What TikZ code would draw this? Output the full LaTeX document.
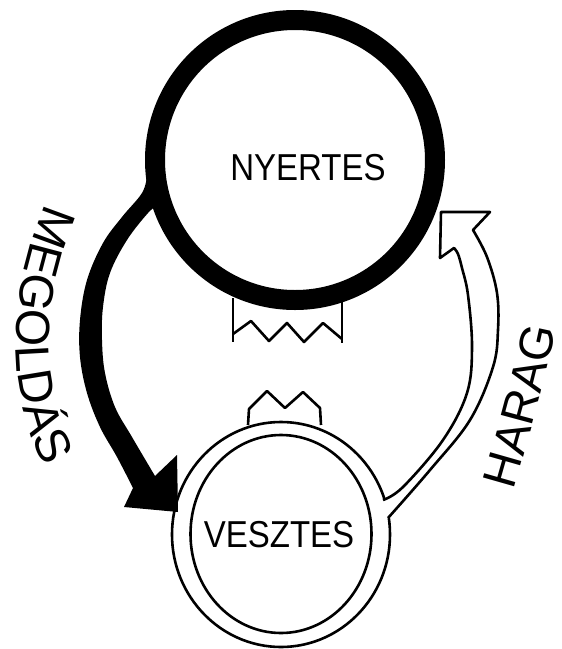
\documentclass[tikz,border=0pt]{standalone}
\usepackage{fontspec}
\usetikzlibrary{shapes.geometric,decorations.text}
\newfontfamily\lblfont[FakeStretch=0.88]{Liberation Sans}
\newfontfamily\arrfont{Liberation Sans}
\newcommand\circlbl{\lblfont\fontsize{37.5}{40}\selectfont}
\newcommand\arrlbl{\arrfont\fontsize{48}{50}\selectfont}
\newcommand\arrlblb{\arrfont\fontsize{47}{50}\selectfont}
\begin{document}
\begin{tikzpicture}[x=1pt,y=-1pt,
  ring/.style={circle, draw=black, line width=20pt, inner sep=0pt, minimum size=280pt},
  band/.style={ellipse, draw=black, line width=2.6pt, inner sep=0pt},
  pen/.style={draw=black, line width=2.6pt, line join=round},
  lbl/.style={font=\circlbl, inner sep=0pt, anchor=base}]
\fill[white] (0,0) rectangle (562,649);
\path[use as bounding box] (0,0) rectangle (562,649);

% zigzag hanging below the winner circle
\draw[pen] (233,298) -- (233,342);
\draw[pen] (342,300) -- (342,343);
\draw[pen] (233,334) -- (251,321) -- (269,341) -- (287,323) -- (304,342) -- (323,323) -- (342,339);

% crown on the loser circle
\draw[pen] (248,425) -- (249,409) -- (267,391) -- (285,408) -- (303,392) -- (320,408) -- (321,425);

% outer ring of the loser
\node[band, minimum width=218pt, minimum height=225pt] (vout) at (281,534.5) {};

% black arrow MEGOLDAS
\fill[black] plot[smooth, tension=0.6] coordinates {(147,176) (142,193) (122,217) (103,243) (87,280) (80,320) (80,357) (87,393) (100,427) (117,457) (133,488)}
  -- (124,507) -- (178,512) -- (177,455) -- (155,476)
  -- plot[smooth, tension=0.6] coordinates {(155,476) (132,437) (115,407) (105,373) (102,340) (103,307) (110,273) (127,240) (148,213) (158,205)}
  -- cycle;

% white arrow HARAG
\fill[white] plot[smooth, tension=0.6] coordinates {(388,518) (430,470) (470,420) (493,367) (498,330) (497,293) (487,257) (473,230)}
  -- (490,212) -- (441,212) -- (440,258) -- (454,248)
  -- plot[smooth, tension=0.6] coordinates {(454,248) (458,254) (462,268) (468,295) (472,347) (467,393) (443,440) (403,487) (383,500)}
  -- (376,503) -- (378,521) -- cycle;
\draw[pen] plot[smooth, tension=0.6] coordinates {(388,518) (430,470) (470,420) (493,367) (498,330) (497,293) (487,257) (473,230)}
  -- (490,212) -- (441,212) -- (440,258) -- (454,248)
  -- plot[smooth, tension=0.6] coordinates {(454,248) (458,254) (462,268) (468,295) (472,347) (467,393) (443,440) (403,487) (383,500)};

% inner circle of the loser
\node[band, minimum width=181pt, minimum height=198pt] (vin) at (281,534) {};

% winner ring
\node[ring] (nyertes) at (295,160) {};

% labels
\node[lbl] (tny) at (308,180) {NYERTES};
\node[lbl] (tve) at (279,547) {VESZTES};

\path[decorate, decoration={text along path, text={|\arrlbl|MEGOLDÁS}, text align=center}]
  (52,190) .. controls (12,275) and (-3,385) .. (52,480);
\path[decorate, decoration={text along path, text={|\arrlblb|HARAG}, text align=center}]
  (512,497) .. controls (528,440) and (545,385) .. (557,322);
\end{tikzpicture}
\end{document}
